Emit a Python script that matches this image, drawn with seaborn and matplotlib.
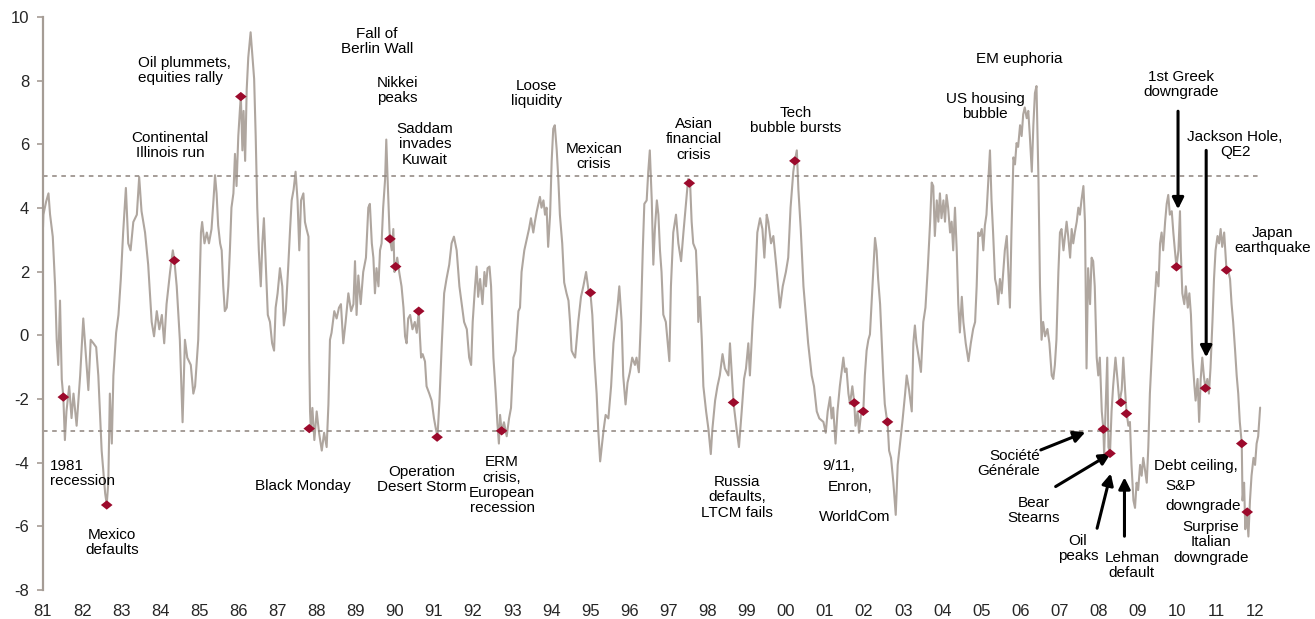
import numpy as np
import pandas as pd
import seaborn as sns
import matplotlib.pyplot as plt

sns.set_style('white')
plt.rcParams['font.family'] = ['Liberation Sans', 'DejaVu Sans']
plt.rcParams['axes.unicode_minus'] = False

# ----------------- DATA (decimal years) -----------------
t_8185 = [1981.0, 1981.01, 1981.08, 1981.14, 1981.18, 1981.25, 1981.31, 1981.35, 1981.39, 1981.435,
          1981.48, 1981.52, 1981.56, 1981.60, 1981.67, 1981.73, 1981.78, 1981.86, 1981.95, 1982.03,
          1982.10, 1982.16, 1982.22, 1982.29, 1982.36, 1982.415, 1982.50, 1982.59, 1982.63, 1982.67,
          1982.71, 1982.76, 1982.80, 1982.87, 1982.93, 1982.99, 1983.05, 1983.12, 1983.18, 1983.24,
          1983.31, 1983.40, 1983.46, 1983.52, 1983.61, 1983.69, 1983.78, 1983.84, 1983.91, 1983.975,
          1984.04, 1984.10, 1984.16, 1984.25, 1984.32, 1984.36, 1984.42, 1984.50, 1984.57, 1984.63,
          1984.69, 1984.78, 1984.845]
v_8185 = [3.4, 3.79, 4.2, 4.46, 3.8, 3.1, 1.54, -0.14, -0.93, 1.09,
          -1.38, -1.94, -3.29, -2.39, -1.6, -2.6, -1.83, -2.84, -1.27, 0.53,
          -0.7, -1.72, -0.14, -0.25, -0.37, -1.27, -3.62, -4.97, -5.31, -4.63,
          -1.83, -3.4, -1.27, 0.08, 0.64, 1.77, 3.23, 4.63, 2.89, 2.67,
          3.56, 3.79, 4.97, 3.9, 3.23, 2.22, 0.42, -0.03, 0.76, 0.19,
          0.64, -0.25, 0.98, 1.99, 2.67, 2.35, 1.54, -0.14, -2.73, -0.14,
          -0.7, -0.93, -1.83]

t_8589 = [1984.89, 1984.97, 1985.04, 1985.07, 1985.13, 1985.19, 1985.245, 1985.31, 1985.36, 1985.40,
          1985.44, 1985.48, 1985.53, 1985.57, 1985.61, 1985.65, 1985.70, 1985.74, 1985.78, 1985.82,
          1985.87, 1985.91, 1985.95, 1985.995, 1986.04, 1986.06, 1986.10, 1986.13, 1986.17, 1986.21,
          1986.25, 1986.31, 1986.35, 1986.40, 1986.44, 1986.48, 1986.52, 1986.57, 1986.61, 1986.65,
          1986.69, 1986.75, 1986.805, 1986.86, 1986.91, 1986.95, 1987.00, 1987.06, 1987.12, 1987.16,
          1987.21, 1987.27, 1987.32, 1987.36, 1987.41, 1987.46, 1987.51, 1987.555, 1987.60, 1987.66,
          1987.70, 1987.74, 1987.79, 1987.81, 1987.83, 1987.85, 1987.89, 1987.94, 1988.00, 1988.06,
          1988.13, 1988.19, 1988.255, 1988.30, 1988.34, 1988.38, 1988.45, 1988.51, 1988.57, 1988.62,
          1988.68, 1988.74, 1988.81, 1988.88, 1988.94, 1988.98]
v_8589 = [-1.6, -0.14, 3.23, 3.56, 2.89, 3.23, 2.89, 3.34, 4.24, 5.03,
          4.46, 3.45, 2.89, 2.67, 1.54, 0.76, 0.87, 1.54, 2.67, 4.01,
          4.46, 5.7, 4.69, 6.26, 7.16, 7.5, 5.81, 7.05, 5.48, 7.72,
          8.73, 9.52, 8.85, 8.06, 6.26, 4.01, 2.67, 1.54, 2.89, 3.68,
          2.44, 0.64, 0.42, -0.25, -0.48, 0.87, 1.32, 2.11, 1.54, 0.31,
          0.76, 2.11, 3.34, 4.24, 4.58, 5.14, 4.24, 2.67, 4.24, 4.46,
          3.56, 3.34, 3.1, -0.7, -2.39, -2.95, -2.28, -3.29, -2.39, -3.06,
          -3.62, -3.06, -3.51, -2.17, -0.14, 0.08, 0.76, 0.53, 0.87, 0.98,
          -0.25, 0.42, 1.32, 0.76, 0.98, 2.33]

t_8993 = [1989.02, 1989.065, 1989.125, 1989.19, 1989.26, 1989.32, 1989.36, 1989.41, 1989.45, 1989.49,
          1989.53, 1989.58, 1989.62, 1989.66, 1989.70, 1989.75, 1989.78, 1989.82, 1989.86, 1989.875,
          1989.92, 1989.96, 1989.99, 1990.02, 1990.06, 1990.11, 1990.17, 1990.22, 1990.26, 1990.30,
          1990.34, 1990.39, 1990.45, 1990.51, 1990.56, 1990.61, 1990.64, 1990.67, 1990.71, 1990.77,
          1990.81, 1990.88, 1990.94, 1991.00, 1991.05, 1991.09, 1991.14, 1991.20, 1991.26, 1991.32,
          1991.39, 1991.45, 1991.51, 1991.58, 1991.65, 1991.71, 1991.77, 1991.84, 1991.90, 1991.95,
          1991.99, 1992.05, 1992.09, 1992.13, 1992.18, 1992.24, 1992.29, 1992.33, 1992.37, 1992.42,
          1992.46, 1992.52, 1992.58, 1992.62, 1992.66, 1992.69, 1992.73, 1992.79, 1992.86]
v_8993 = [0.64, 1.88, 0.98, 1.99, 2.44, 4.01, 4.13, 2.89, 2.44, 1.32,
          2.11, 1.54, 2.67, 2.89, 4.01, 4.91, 6.15, 4.69, 3.34, 3.03,
          2.67, 3.34, 1.99, 2.16, 2.44, 1.99, 1.54, 0.87, -0.03, -0.25,
          0.53, 0.64, 0.19, 0.42, 0.08, 0.76, -0.03, -0.7, -0.59, -0.82,
          -1.6, -1.83, -2.05, -2.61, -2.95, -3.17, -2.05, -0.25, 1.32, 1.77,
          2.22, 2.89, 3.1, 2.67, 1.54, 0.98, 0.42, 0.19, -0.7, -0.93,
          0.42, 1.54, 2.16, 1.21, 1.77, 0.98, 1.99, 1.54, 2.11, 2.16,
          1.54, -0.7, -1.83, -2.73, -3.4, -2.5, -3.0, -2.73, -3.17]

t_9397 = [1992.92, 1992.97, 1993.03, 1993.09, 1993.16, 1993.20, 1993.24, 1993.31, 1993.37, 1993.43,
          1993.48, 1993.54, 1993.58, 1993.63, 1993.67, 1993.71, 1993.75, 1993.80, 1993.84, 1993.88,
          1993.92, 1993.97, 1994.01, 1994.05, 1994.09, 1994.14, 1994.18, 1994.22, 1994.28, 1994.33,
          1994.39, 1994.44, 1994.48, 1994.52, 1994.56, 1994.61, 1994.65, 1994.69, 1994.76, 1994.82,
          1994.89, 1994.95, 1995.00, 1995.05, 1995.10, 1995.16, 1995.20, 1995.25, 1995.29, 1995.34,
          1995.39, 1995.46, 1995.53, 1995.59, 1995.65, 1995.70, 1995.74, 1995.80, 1995.84, 1995.90,
          1995.95, 1996.01, 1996.07, 1996.14, 1996.18, 1996.24, 1996.29, 1996.34, 1996.38, 1996.44,
          1996.48, 1996.52, 1996.57, 1996.61, 1996.65, 1996.70, 1996.74, 1996.78, 1996.82]
v_9397 = [-2.61, -2.28, -0.7, -0.48, 0.76, 0.87, 1.99, 2.67, 3.0, 3.34,
          3.68, 3.23, 3.56, 3.9, 4.13, 4.35, 4.01, 4.24, 3.79, 4.01,
          2.78, 3.79, 5.48, 6.49, 6.6, 5.81, 4.91, 3.79, 2.89, 1.66,
          1.32, 1.09, 0.42, -0.48, -0.59, -0.7, -0.14, 0.42, 1.21, 1.54,
          1.99, 1.43, 1.34, 0.64, -0.7, -1.83, -2.95, -3.96, -3.51, -2.95,
          -2.5, -2.61, -1.6, -0.25, 0.42, 0.98, 1.54, 0.42, -1.27, -2.17,
          -1.49, -1.16, -0.7, -0.93, -0.7, -1.16, 0.42, 2.67, 4.13, 4.24,
          5.14, 5.81, 4.24, 2.22, 3.34, 4.24, 3.79, 2.67, 1.99]

t_9701 = [1996.865, 1996.93, 1997.02, 1997.06, 1997.12, 1997.19, 1997.25, 1997.32, 1997.38, 1997.445,
          1997.50, 1997.53, 1997.55, 1997.59, 1997.63, 1997.70, 1997.74, 1997.76, 1997.80, 1997.85,
          1997.89, 1997.96, 1998.02, 1998.08, 1998.12, 1998.19, 1998.25, 1998.31, 1998.38, 1998.44,
          1998.53, 1998.57, 1998.66, 1998.74, 1998.80, 1998.87, 1998.93, 1998.98, 1999.04, 1999.08,
          1999.15, 1999.21, 1999.27, 1999.34, 1999.40, 1999.45, 1999.51, 1999.55, 1999.62, 1999.68,
          1999.76, 1999.85, 1999.92, 2000.00, 2000.06, 2000.12, 2000.19, 2000.23, 2000.28, 2000.32,
          2000.38, 2000.45, 2000.51, 2000.57, 2000.66, 2000.72, 2000.79, 2000.855]
v_9701 = [0.65, 0.42, -0.81, 1.54, 3.23, 3.79, 2.89, 2.33, 3.23, 4.13,
          4.91, 4.78, 4.80, 3.57, 2.89, 2.67, 1.54, 0.42, 1.21, -0.14,
          -1.60, -2.39, -2.95, -3.73, -2.95, -2.05, -1.60, -1.26, -0.59, -1.04,
          -1.26, -0.25, -2.11, -2.95, -3.51, -2.39, -1.37, -1.04, -0.25, -1.26,
          0.42, 1.54, 3.23, 3.68, 3.34, 2.44, 3.79, 3.57, 2.89, 3.12,
          2.11, 0.87, 1.54, 1.99, 2.44, 4.01, 5.14, 5.48, 5.81, 4.58,
          3.34, 1.54, 0.65, -0.25, -1.26, -1.60, -2.39, -2.61]

t_0105 = [2000.96, 2001.02, 2001.07, 2001.13, 2001.17, 2001.21, 2001.27, 2001.32, 2001.38, 2001.47,
          2001.51, 2001.55, 2001.60, 2001.64, 2001.70, 2001.75, 2001.78, 2001.835, 2001.87, 2001.92,
          2001.98, 2002.02, 2002.065, 2002.11, 2002.15, 2002.19, 2002.24, 2002.28, 2002.32, 2002.36,
          2002.41, 2002.45, 2002.49, 2002.53, 2002.58, 2002.60, 2002.64, 2002.69, 2002.75, 2002.81,
          2002.86, 2002.92, 2002.98, 2003.05, 2003.09, 2003.15, 2003.22, 2003.26, 2003.30, 2003.34,
          2003.40, 2003.455, 2003.515, 2003.57, 2003.63, 2003.69, 2003.73, 2003.77, 2003.81, 2003.86,
          2003.90, 2003.94, 2003.98, 2004.03, 2004.07, 2004.11, 2004.15, 2004.20, 2004.24, 2004.28,
          2004.325, 2004.37, 2004.41, 2004.45, 2004.50, 2004.54, 2004.60, 2004.67, 2004.73, 2004.79,
          2004.84]
v_0105 = [-2.72, -3.06, -2.39, -1.94, -2.61, -2.27, -3.40, -2.39, -1.60, -0.70,
          -1.15, -1.04, -1.83, -2.16, -1.60, -2.12, -2.84, -2.39, -3.06, -2.50,
          -2.39, -1.26, -0.48, -0.14, 0.03, 0.98, 2.11, 3.06, 2.67, 1.77,
          0.98, -0.14, -1.26, -2.16, -2.61, -2.72, -3.62, -3.85, -4.63, -5.64,
          -4.07, -3.40, -2.72, -1.83, -1.26, -1.71, -2.39, -0.25, 0.31, -0.25,
          -0.70, -1.15, 0.42, 0.87, 2.11, 3.57, 4.80, 4.69, 3.12, 4.24,
          3.57, 4.46, 3.68, 4.24, 3.57, 4.41, 4.01, 3.23, 3.57, 2.67,
          4.01, 2.67, 0.98, 0.09, 1.21, 0.42, -0.25, -0.81, -0.25, 0.20,
          0.42]

t_0509 = [2004.88, 2004.92, 2004.96, 2005.01, 2005.05, 2005.09, 2005.13, 2005.18, 2005.22, 2005.26,
          2005.30, 2005.35, 2005.39, 2005.43, 2005.475, 2005.52, 2005.56, 2005.60, 2005.65, 2005.69,
          2005.73, 2005.77, 2005.82, 2005.86, 2005.90, 2005.94, 2005.99, 2006.03, 2006.07, 2006.11,
          2006.16, 2006.20, 2006.24, 2006.29, 2006.33, 2006.37, 2006.41, 2006.46, 2006.50, 2006.54,
          2006.58, 2006.63, 2006.69, 2006.74, 2006.80, 2006.84, 2006.88, 2006.92, 2006.97, 2007.01,
          2007.05, 2007.10, 2007.14, 2007.18, 2007.22, 2007.27, 2007.31, 2007.35, 2007.39, 2007.44,
          2007.48, 2007.52, 2007.56, 2007.61, 2007.65, 2007.69, 2007.73, 2007.78, 2007.82, 2007.86,
          2007.90, 2007.95, 2007.99, 2008.03, 2008.08, 2008.12, 2008.14, 2008.19, 2008.22, 2008.25,
          2008.29, 2008.33, 2008.37, 2008.43, 2008.48, 2008.53, 2008.59, 2008.63, 2008.67, 2008.71,
          2008.76]
v_0509 = [1.54, 3.23, 3.12, 3.34, 2.67, 3.45, 3.79, 4.91, 5.81, 4.24,
          3.23, 1.77, 1.54, 0.98, 1.77, 1.32, 1.99, 2.67, 3.12, 1.99,
          0.87, 3.23, 5.59, 5.37, 6.04, 5.92, 6.60, 6.26, 6.94, 7.16,
          6.82, 7.05, 6.26, 5.14, 6.60, 7.61, 7.83, 4.91, 1.54, -0.14,
          0.42, -0.03, 0.20, -0.25, -1.26, -1.37, -0.93, -0.14, 1.99, 3.23,
          3.34, 2.67, 3.12, 3.57, 3.12, 2.44, 3.34, 2.89, 3.23, 3.57,
          4.01, 3.79, 4.24, 4.69, 3.57, -1.04, 2.11, 0.98, 2.44, 2.33,
          1.54, -0.70, -1.26, -0.70, -2.39, -2.95, -3.73, -1.83, -0.70, -3.51,
          -3.71, -2.39, -1.60, -0.70, -1.37, -2.11, -1.71, -0.70, -1.60, -2.39,
          -2.84]

t_0912 = [2008.80, 2008.84, 2008.89, 2008.93, 2008.97, 2009.01, 2009.06, 2009.10, 2009.14, 2009.18,
          2009.23, 2009.27, 2009.31, 2009.355, 2009.40, 2009.44, 2009.48, 2009.53, 2009.57, 2009.61,
          2009.65, 2009.70, 2009.74, 2009.78, 2009.82, 2009.87, 2009.91, 2009.95, 2009.99, 2010.04,
          2010.08, 2010.10, 2010.14, 2010.19, 2010.23, 2010.28, 2010.32, 2010.36, 2010.40, 2010.45,
          2010.48, 2010.53, 2010.57, 2010.61, 2010.65, 2010.69, 2010.73, 2010.78, 2010.82, 2010.86,
          2010.91, 2010.95, 2010.99, 2011.04, 2011.08, 2011.12, 2011.16, 2011.21, 2011.27, 2011.32,
          2011.36, 2011.40, 2011.44, 2011.49, 2011.53, 2011.57, 2011.61, 2011.66, 2011.68, 2011.72,
          2011.75, 2011.79, 2011.83, 2011.87, 2011.91, 2011.96, 2012.00, 2012.04, 2012.08, 2012.13]
v_0912 = [-2.72, -4.07, -5.19, -5.42, -4.63, -4.86, -4.07, -4.41, -3.85, -4.18,
          -4.63, -3.51, -1.83, -0.70, 0.42, 1.21, 1.99, 1.54, 2.89, 3.23,
          2.67, 3.57, 4.13, 4.41, 3.79, 3.90, 3.23, 2.67, 2.15, 2.67,
          3.90, 2.67, 1.32, 0.98, 1.54, 0.87, 1.32, 0.65, -0.70, -1.60,
          -2.05, -1.37, -2.72, -1.37, -0.70, -1.26, -1.66, -1.37, -1.83, -1.04,
          0.42, 1.77, 2.67, 3.12, 2.89, 3.34, 2.78, 3.23, 2.05, 1.99,
          1.77, 0.98, 0.42, -0.48, -1.26, -1.83, -2.72, -3.40, -5.19, -4.63,
          -6.09, -5.53, -6.32, -5.19, -4.41, -3.85, -4.07, -3.40, -3.17, -2.27]

# events marked with red diamonds
event_years = [1981.52, 1982.63, 1984.36, 1986.06, 1987.81, 1989.875, 1990.02, 1990.61, 1991.08,
               1992.73, 1995.00, 1997.53, 1998.66, 2000.23, 2001.75, 2001.98, 2002.60, 2008.12,
               2008.29, 2008.57, 2008.71, 2009.99, 2010.73, 2011.27, 2011.66, 2011.80]
event_values = [-1.94, -5.33, 2.35, 7.50, -2.93, 3.03, 2.16, 0.76, -3.20,
                -3.00, 1.34, 4.78, -2.11, 5.48, -2.12, -2.39, -2.72, -2.95,
                -3.71, -2.11, -2.46, 2.15, -1.66, 2.05, -3.40, -5.55]

# annotation labels: (text, year, value, alignment)
labels = [
    ("1981\nrecession", 1981.18, -4.34, 'left'),
    ("Mexico\ndefaults", 1982.76, -6.50, 'center'),
    ("Continental\nIllinois run", 1984.25, 5.97, 'center'),
    ("Oil plummets,\nequities rally", 1983.43, 8.33, 'left'),
    ("Black Monday", 1987.65, -4.74, 'center'),
    ("Fall of\nBerlin Wall", 1989.54, 9.24, 'center'),
    ("Nikkei\npeaks", 1989.54, 7.70, 'left'),
    ("Saddam\ninvades\nKuwait", 1990.77, 6.00, 'center'),
    ("Operation\nDesert Storm", 1990.69, -4.52, 'center'),
    ("ERM\ncrisis,\nEuropean\nrecession", 1992.74, -4.71, 'center'),
    ("Loose\nliquidity", 1993.63, 7.60, 'center'),
    ("Mexican\ncrisis", 1995.09, 5.62, 'center'),
    ("Asian\nfinancial\ncrisis", 1997.65, 6.16, 'center'),
    ("Russia\ndefaults,\nLTCM fails", 1998.75, -5.09, 'center'),
    ("Tech\nbubble bursts", 2000.26, 6.75, 'center'),
    ("9/11,", 2001.36, -4.12, 'center'),
    ("Enron,", 2001.64, -4.78, 'center'),
    ("WorldCom", 2001.77, -5.72, 'center'),
    ("US housing\nbubble", 2005.09, 7.19, 'center'),
    ("EM euphoria", 2005.96, 8.67, 'center'),
    ("1st Greek\ndowngrade", 2010.10, 7.89, 'center'),
    ("Jackson Hole,\nQE2", 2011.49, 6.00, 'center'),
    ("Japan\nearthquake", 2012.45, 2.98, 'center'),
    ("Société\nGénérale", 2006.50, -4.02, 'right'),
    ("Bear\nStearns", 2006.34, -5.50, 'center'),
    ("Oil\npeaks", 2007.47, -6.69, 'center'),
    ("Lehman\ndefault", 2008.85, -7.23, 'center'),
    ("Debt ceiling,", 2009.41, -4.12, 'left'),
    ("Surprise\nItalian\ndowngrade", 2010.87, -6.50, 'center'),
]

# arrows: (tail year, tail value, head year, head value)
arrows = [
    (2006.52, -3.60, 2007.66, -3.04),
    (2006.90, -4.75, 2008.31, -3.71),
    (2007.96, -6.06, 2008.31, -4.34),
    (2008.66, -6.31, 2008.66, -4.46),
    (2010.03, 7.04, 2010.03, 3.96),
    (2010.75, 5.81, 2010.75, -0.69),
]

# ----------------- PLOT -----------------
df = pd.DataFrame({
    'year': t_8185 + t_8589 + t_8993 + t_9397 + t_9701 + t_0105 + t_0509 + t_0912,
    'value': v_8185 + v_8589 + v_8993 + v_9397 + v_9701 + v_0105 + v_0509 + v_0912,
})
events = pd.DataFrame({'year': event_years, 'value': event_values})

fig = plt.figure(figsize=(13.15, 6.19), dpi=100)
ax = fig.add_axes([43 / 1315, 29 / 619, 1231.6 / 1315, 573 / 619])

line_col = '#afa69f'
sns.lineplot(data=df, x='year', y='value', ax=ax, color=line_col, lw=1.5,
             estimator=None, sort=False)

ax.hlines([5, -3], 1981, 2012.15, colors='#8d837c', linestyles=(0, (3, 3)), lw=1.1)

diamond = [(-1, 0), (0, 0.8), (1, 0), (0, -0.8), (-1, 0)]
sns.scatterplot(data=events, x='year', y='value', ax=ax, marker=diamond, s=70,
                color='#9c0a2c', edgecolor='none', zorder=5)

for txt, x, y, ha in labels:
    ax.text(x, y, txt, ha=ha, va='center', fontsize=11, linespacing=1.12,
            color='black', clip_on=False)
ax.text(2009.70, -5.06, "S&P\ndowngrade", ha='left', va='center', fontsize=11,
        linespacing=1.55, color='black')

for x0, y0, x1, y1 in arrows:
    ax.annotate('', xy=(x1, y1), xytext=(x0, y0),
                arrowprops=dict(arrowstyle='-|>', lw=2.2, color='black',
                                mutation_scale=17, shrinkA=0, shrinkB=0))

ax.set_xlim(1981, 2012.5)
ax.set_ylim(-8, 10)
years = list(range(1981, 2013))
ax.set_xticks(years)
ax.set_xticklabels([f"{y % 100:02d}" for y in years])
ax.set_yticks(range(-8, 11, 2))
ax.set_xlabel('')
ax.set_ylabel('')

for s in ['top', 'right', 'bottom']:
    ax.spines[s].set_visible(False)
ax.spines['left'].set_color('#a59c95')
ax.spines['left'].set_linewidth(1.6)
ax.tick_params(axis='y', direction='out', length=4, width=1.2, color='#a59c95',
               labelsize=12, pad=6, left=True)
ax.tick_params(axis='x', length=0, labelsize=12, pad=10)

fig.savefig('out.png', dpi=100)
